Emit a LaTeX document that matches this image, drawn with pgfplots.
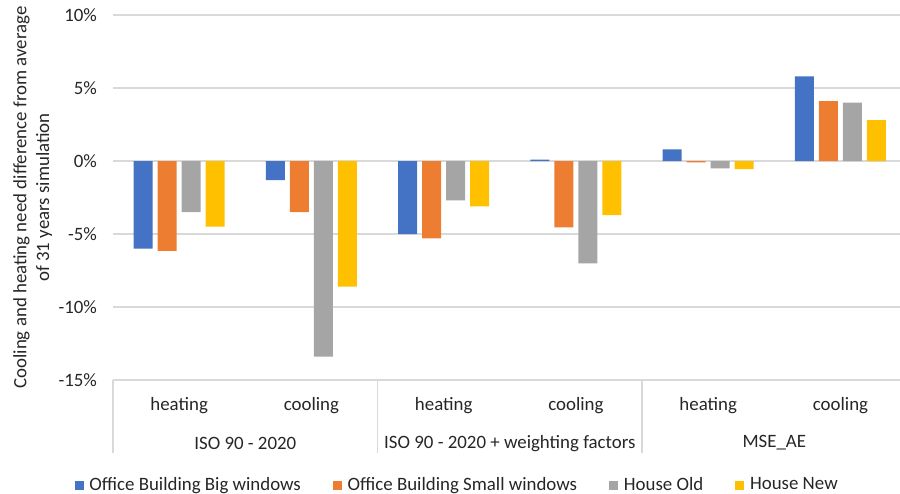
\documentclass[border=0pt]{standalone}
\usepackage{fontspec}
\setmainfont{Carlito}
\usepackage{pgfplots}
\pgfplotsset{compat=1.18}
\definecolor{xlblue}{HTML}{4472C4}
\definecolor{xlorange}{HTML}{ED7D31}
\definecolor{xlgray}{HTML}{A5A5A5}
\definecolor{xlyellow}{HTML}{FFC000}
\definecolor{gridgray}{HTML}{D9D9D9}
\definecolor{txtgray}{HTML}{262626}

\begin{document}
\begin{tikzpicture}
\begin{axis}[
  at={(0,0)}, anchor=south west,
  scale only axis, width=417.1pt, height=193.5pt,
  ybar=2.65pt, bar width=10.07pt,
  xmin=-0.5, xmax=5.45, ymin=-15, ymax=10,
  xtick={0,...,5},
  xticklabels={heating,cooling,heating,cooling,heating,cooling},
  ytick={-15,-10,...,10},
  yticklabel={\pgfmathprintnumber{\tick}\%},
  /pgf/number format/assume math mode=true,
  major tick length=0pt,
  axis line style={draw=none},
  ymajorgrids, grid style={draw=gridgray, line width=0.7pt},
  tick label style={text=txtgray},
  xticklabel style={anchor=center, yshift=-13.25pt},
  yticklabel style={anchor=east, xshift=-5pt},
  every axis y label/.style={at={(axis description cs:-0.102,0.5)},
    rotate=90, anchor=center, align=center, text=txtgray},
  ylabel={Cooling and heating need difference from average\\of 31 years simulation},
  legend style={at={(0.4385,-0.2875)}, anchor=center, legend columns=4,
    draw=none, fill=none, text=txtgray,
    /tikz/every odd column/.append style={column sep=1pt},
    /tikz/every even column/.append style={column sep=15pt}},
  legend image code/.code={\fill[#1] (0pt,-2.4pt) rectangle (4.8pt,2.4pt);},
  clip=false,
]
\addplot[fill=xlblue, draw=none] coordinates {
  (0,-6.0) (1,-1.3) (2,-5.0) (3,0.1) (4,0.8) (5,5.8)};
\addlegendentry{Office Building Big windows}
\addplot[fill=xlorange, draw=none] coordinates {
  (0,-6.15) (1,-3.5) (2,-5.3) (3,-4.55) (4,-0.1) (5,4.1)};
\addlegendentry{Office Building Small windows}
\addplot[fill=xlgray, draw=none] coordinates {
  (0,-3.5) (1,-13.4) (2,-2.7) (3,-7.0) (4,-0.5) (5,4.0)};
\addlegendentry{House Old}
\addplot[fill=xlyellow, draw=none] coordinates {
  (0,-4.5) (1,-8.6) (2,-3.1) (3,-3.7) (4,-0.55) (5,2.8)};
\addlegendentry{House New}
% category group separators and labels
\draw[gridgray, line width=0.7pt] (axis cs:-0.5,-15) -- ([yshift=-38.7pt]axis cs:-0.5,-15);
\draw[gridgray, line width=0.7pt] (axis cs:1.5,-15) -- ([yshift=-38.7pt]axis cs:1.5,-15);
\draw[gridgray, line width=0.7pt] (axis cs:3.5,-15) -- ([yshift=-38.7pt]axis cs:3.5,-15);
\node[text=txtgray] at ([yshift=-33.4pt]axis cs:0.5,-15) {ISO 90 - 2020};
\node[text=txtgray] at ([yshift=-33.4pt]axis cs:2.5,-15) {ISO 90 - 2020 + weighting factors};
\node[text=txtgray] at ([yshift=-33.4pt]axis cs:4.5,-15) {MSE\_AE};
\end{axis}
\pgfresetboundingbox
\path[use as bounding box] (-59.9pt,-59.9pt) rectangle (417.1pt,201.45pt);
\end{tikzpicture}
\end{document}
